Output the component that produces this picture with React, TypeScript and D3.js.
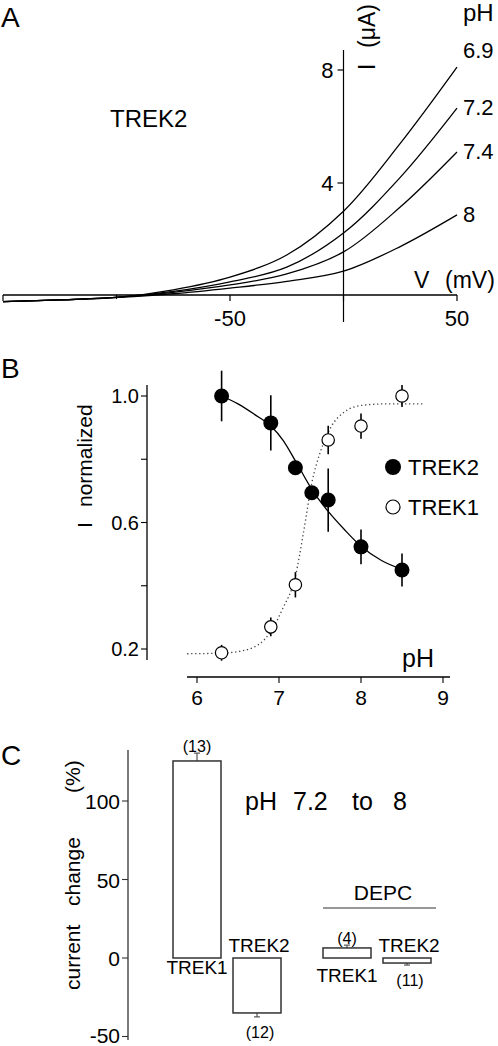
import React from "react";
import * as d3 from "d3";

// ---------- Panel A data ----------
const voltages = [-150, -125, -100, -75, -50, -25, 0, 25, 50];
const pHLevels = ["6.9", "7.2", "7.4", "8"];
const currentPH69 = [-0.2, -0.14, -0.05, 0.22, 0.67, 1.45, 3.0, 5.4, 8.1];
const currentPH72 = [-0.2, -0.14, -0.05, 0.16, 0.5, 1.02, 2.23, 4.2, 6.65];
const currentPH74 = [-0.2, -0.14, -0.05, 0.13, 0.39, 0.78, 1.56, 3.15, 5.1];
const currentPH8 = [-0.2, -0.14, -0.05, 0.08, 0.28, 0.52, 0.88, 1.75, 2.87];
const ivCurves = [currentPH69, currentPH72, currentPH74, currentPH8];
const vTicks = [-150, -100, -50, 0, 50];
const vTickLabels = ["", "", "-50", "", "50"];
const iTicks = [4, 8];

// ---------- Panel B data ----------
const trek2PH = [6.3, 6.9, 7.2, 7.4, 7.6, 8.0, 8.5];
const trek2Mean = [1.0, 0.915, 0.773, 0.694, 0.671, 0.523, 0.45];
const trek2Err = [0.08, 0.087, 0.015, 0.02, 0.1, 0.055, 0.052];
const trek1PH = [6.3, 6.9, 7.2, 7.6, 8.0, 8.5];
const trek1Mean = [0.188, 0.27, 0.403, 0.861, 0.905, 1.0];
const trek1Err = [0.025, 0.03, 0.04, 0.045, 0.04, 0.035];
const trek2FitPH = [6.3, 6.5, 6.7, 6.9, 7.05, 7.2, 7.4, 7.6, 7.8, 8.0, 8.25, 8.5];
const trek2FitI = [1.0, 0.975, 0.942, 0.905, 0.86, 0.795, 0.705, 0.635, 0.577, 0.525, 0.48, 0.452];
const trek1FitPH = [5.88, 6.3, 6.6, 6.9, 7.04, 7.2, 7.3, 7.4, 7.5, 7.63, 7.8, 8.0, 8.3, 8.76];
const trek1FitI = [0.185, 0.187, 0.197, 0.255, 0.325, 0.43, 0.57, 0.725, 0.82, 0.9, 0.95, 0.97, 0.975, 0.975];
const phTicks = [6, 7, 8, 9];
const normTicks = [0.2, 0.4, 0.6, 0.8, 1.0];
const normTickLabels = ["0.2", "", "0.6", "", "1.0"];

// ---------- Panel C data ----------
const conditions = ["control", "DEPC"];
const channels = ["TREK1", "TREK2"];
const changeControl = [125.5, -35];
const errControl = [5, 2.5];
const nControl = [13, 12];
const changeDEPC = [6.4, -3.2];
const errDEPC = [1.8, 1.3];
const nDEPC = [4, 11];
const changeTicks = [-50, 0, 50, 100];

const FONT = "'Liberation Sans', Arial, Helvetica, sans-serif";

export default function App() {
  // ---- Panel A scales ----
  const xA = d3.scaleLinear().domain([-150, 50]).range([3, 457]);
  const yA = d3.scaleLinear().domain([0, 8]).range([296, 70]);
  const lineA = d3
    .line<number>()
    .x((_, i) => xA(voltages[i]))
    .y((d) => yA(d))
    .curve(d3.curveCatmullRom.alpha(0.5));

  // ---- Panel B scales ----
  const xB = d3.scaleLinear().domain([6, 9]).range([197, 443]);
  const yB = d3.scaleLinear().domain([0.2, 1.0]).range([649, 396]);
  const fitLine = d3
    .line<[number, number]>()
    .x((d) => xB(d[0]))
    .y((d) => yB(d[1]))
    .curve(d3.curveMonotoneX);
  const trek2Fit = trek2FitPH.map((p, i) => [p, trek2FitI[i]] as [number, number]);
  const trek1Fit = trek1FitPH.map((p, i) => [p, trek1FitI[i]] as [number, number]);

  // ---- Panel C scales ----
  const yC = d3.scaleLinear().domain([0, 100]).range([958, 801]);
  const xGroup = d3.scaleBand().domain(conditions).range([173, 473]).padding(0);
  const xChan = d3.scaleBand().domain(channels).range([0, 108]).paddingInner(0.2).paddingOuter(0);
  const barSets = [
    { cond: "control", vals: changeControl, errs: errControl, ns: nControl, nameDown: 16 },
    { cond: "DEPC", vals: changeDEPC, errs: errDEPC, ns: nDEPC, nameDown: 24 },
  ];

  return (
    <svg
      width={498}
      height={1046}
      viewBox="0 0 498 1046"
      style={{ position: "absolute", left: 0, top: 0, background: "#fff" }}
      fontFamily={FONT}
    >
      <rect x={0} y={0} width={498} height={1046} fill="#fff" />

      {/* ================= Panel A ================= */}
      <text x={1} y={27} fontSize={28}>A</text>
      {/* x axis */}
      <line x1={xA(-150)} x2={xA(50)} y1={295} y2={295} stroke="#000" strokeWidth={1.3} />
      {vTicks.map((v, i) => (
        <g key={"vt" + v}>
          <line x1={xA(v)} x2={xA(v)} y1={295} y2={i === 1 ? 299 : 301} stroke="#000" strokeWidth={1.2} />
          {vTickLabels[i] && (
            <text x={xA(v)} y={326} fontSize={22} textAnchor="middle">
              {vTickLabels[i]}
            </text>
          )}
        </g>
      ))}
      {/* y axis */}
      <line x1={xA(0)} x2={xA(0)} y1={50} y2={322} stroke="#000" strokeWidth={1.2} />
      {iTicks.map((t) => (
        <g key={"it" + t}>
          <line x1={xA(0) - 6} x2={xA(0)} y1={yA(t)} y2={yA(t)} stroke="#000" strokeWidth={1.2} />
          <text x={xA(0) - 10} y={yA(t) + 8} fontSize={22} textAnchor="end">
            {t}
          </text>
        </g>
      ))}
      {/* curves */}
      {ivCurves.map((c, i) => (
        <path key={"iv" + i} d={lineA(c) || ""} fill="none" stroke="#000" strokeWidth={1.3} />
      ))}
      {ivCurves.map((c, i) => (
        <text key={"ivl" + i} x={463} y={yA(c[c.length - 1]) + (i === 0 ? -9 : 7)} fontSize={22}>
          {pHLevels[i]}
        </text>
      ))}
      <text x={463} y={21} fontSize={24}>pH</text>
      <text x={110} y={127} fontSize={24}>TREK2</text>
      <text x={414} y={288} fontSize={23}>V</text>
      <text x={445} y={288} fontSize={23}>(mV)</text>
      <text transform="translate(375,70) rotate(-90)" fontSize={23}>I</text>
      <text transform="translate(375,48) rotate(-90)" fontSize={23}>(μA)</text>

      {/* ================= Panel B ================= */}
      <text x={1} y={378} fontSize={28}>B</text>
      {/* y axis */}
      <line x1={147} x2={147} y1={385} y2={660} stroke="#000" strokeWidth={1.3} />
      {normTicks.map((t, i) => (
        <g key={"nt" + t}>
          <line x1={141} x2={147} y1={yB(t)} y2={yB(t)} stroke="#000" strokeWidth={1.1} />
          {normTickLabels[i] && (
            <text x={139} y={yB(t) + 7} fontSize={20} textAnchor="end">
              {normTickLabels[i]}
            </text>
          )}
        </g>
      ))}
      <text transform="translate(92,528) rotate(-90)" fontSize={21}>I</text>
      <text transform="translate(92,507) rotate(-90)" fontSize={21}>normalized</text>
      {/* x axis */}
      <line x1={187} x2={450} y1={677} y2={677} stroke="#000" strokeWidth={1.3} />
      {phTicks.map((t) => (
        <g key={"pt" + t}>
          <line x1={xB(t)} x2={xB(t)} y1={677} y2={683} stroke="#000" strokeWidth={1.1} />
          <text x={xB(t)} y={705} fontSize={21} textAnchor="middle">
            {t}
          </text>
        </g>
      ))}
      <text x={402} y={667} fontSize={25}>pH</text>
      {/* fits */}
      <path d={fitLine(trek1Fit) || ""} fill="none" stroke="#444" strokeWidth={1.3} strokeDasharray="1.3,2.7" />
      <path d={fitLine(trek2Fit) || ""} fill="none" stroke="#000" strokeWidth={1.3} />
      {/* error bars */}
      {trek2PH.map((p, i) => (
        <line key={"e2" + i} x1={xB(p)} x2={xB(p)} y1={yB(trek2Mean[i] - trek2Err[i])} y2={yB(trek2Mean[i] + trek2Err[i])} stroke="#000" strokeWidth={1.6} />
      ))}
      {trek1PH.map((p, i) => (
        <line key={"e1" + i} x1={xB(p)} x2={xB(p)} y1={yB(trek1Mean[i] - trek1Err[i])} y2={yB(trek1Mean[i] + trek1Err[i])} stroke="#000" strokeWidth={1.6} />
      ))}
      {/* points */}
      {trek1PH.map((p, i) => (
        <circle key={"p1" + i} cx={xB(p)} cy={yB(trek1Mean[i])} r={6.2} fill="#fff" stroke="#000" strokeWidth={1.2} />
      ))}
      {trek2PH.map((p, i) => (
        <circle key={"p2" + i} cx={xB(p)} cy={yB(trek2Mean[i])} r={7.5} fill="#000" />
      ))}
      {/* legend */}
      <circle cx={393} cy={467} r={8} fill="#000" />
      <text x={408} y={475} fontSize={22}>TREK2</text>
      <circle cx={393} cy={507} r={7} fill="#fff" stroke="#000" strokeWidth={1.2} />
      <text x={408} y={515} fontSize={22}>TREK1</text>

      {/* ================= Panel C ================= */}
      <text x={1} y={765} fontSize={28}>C</text>
      <line x1={128} x2={128} y1={750} y2={1040} stroke="#333" strokeWidth={1.3} />
      {changeTicks.map((t) => (
        <g key={"ct" + t}>
          <line x1={122} x2={128} y1={yC(t)} y2={yC(t)} stroke="#333" strokeWidth={1.1} />
          <text x={120} y={Math.min(yC(t) + 8, 1043)} fontSize={21} textAnchor="end">
            {t}
          </text>
        </g>
      ))}
      <text transform="translate(80,990) rotate(-90)" fontSize={21}>current</text>
      <text transform="translate(80,906) rotate(-90)" fontSize={21}>change</text>
      <text transform="translate(80,793) rotate(-90)" fontSize={21}>(%)</text>
      <text x={245} y={810} fontSize={25}>pH</text>
      <text x={293} y={810} fontSize={25}>7.2</text>
      <text x={352} y={810} fontSize={25}>to</text>
      <text x={393} y={810} fontSize={25}>8</text>
      {/* DEPC bracket */}
      <line x1={323} x2={436} y1={908} y2={908} stroke="#333" strokeWidth={1.2} />
      <text x={383} y={900} fontSize={21} textAnchor="middle">DEPC</text>
      {barSets.map((set) =>
        channels.map((ch, j) => {
          const x0 = (xGroup(set.cond) || 0) + (xChan(ch) || 0);
          const w = xChan.bandwidth();
          const v = set.vals[j];
          const e = set.errs[j];
          const cx = x0 + w / 2;
          const yTop = yC(Math.max(0, v));
          const yBot = yC(Math.min(0, v));
          const pos = v >= 0;
          const errEnd = pos ? yC(v + e) : yC(v - e);
          const barEdge = pos ? yTop : yBot;
          return (
            <g key={set.cond + ch}>
              <line x1={cx} x2={cx} y1={barEdge} y2={errEnd} stroke="#555" strokeWidth={1.2} />
              <line x1={cx - 3} x2={cx + 3} y1={errEnd} y2={errEnd} stroke="#555" strokeWidth={1.2} />
              <rect x={x0} y={yTop} width={w} height={Math.max(1, yBot - yTop)} fill="#fff" stroke="#333" strokeWidth={1.5} />
              {pos ? (
                <>
                  <text x={cx} y={errEnd - 1} fontSize={16} textAnchor="middle">({set.ns[j]})</text>
                  <text x={cx} y={yC(0) + set.nameDown} fontSize={19} textAnchor="middle">{ch}</text>
                </>
              ) : (
                <>
                  <text x={cx + 2} y={yC(0) - 6} fontSize={19} textAnchor="middle">{ch}</text>
                  <text x={cx + 3} y={errEnd + 21} fontSize={16} textAnchor="middle">({set.ns[j]})</text>
                </>
              )}
            </g>
          );
        })
      )}
    </svg>
  );
}
